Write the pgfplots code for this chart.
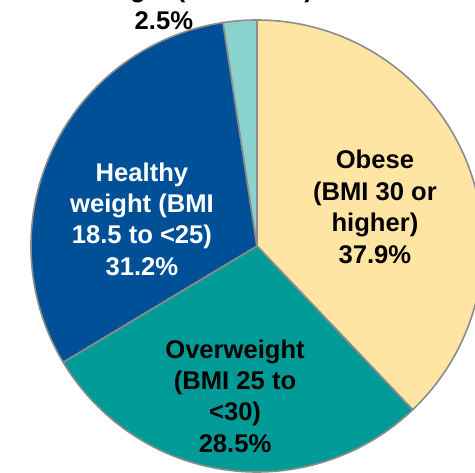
\documentclass[border=0pt]{standalone}
\usepackage{pgfplots}
\pgfplotsset{compat=1.18}
\usepackage{fontspec}
\setmainfont{Liberation Sans}
\definecolor{obese}{RGB}{255,229,163}
\definecolor{over}{RGB}{0,155,150}
\definecolor{healthy}{RGB}{0,80,152}
\definecolor{under}{RGB}{138,210,206}
\definecolor{edge}{RGB}{140,140,140}
\tikzset{lab/.style={font=\bfseries\fontsize{12.8}{15.7}\selectfont, align=center, inner sep=0pt}}
% slice from cumulative percent #1 to #2, clockwise from the top
\newcommand\slice[3]{%
  \fill[#3, draw=edge, line width=0.8pt] (axis cs:0,0) -- ++({90-3.6*#1}:113pt)
    arc[start angle={90-3.6*#1}, end angle={90-3.6*#2}, radius=113pt] -- cycle;}
\begin{document}
\begin{tikzpicture}
\begin{axis}[
  hide axis, scale only axis,
  x=113pt, y=113pt,
  xmin=-1.137, xmax=0.9646, ymin=-1.0, ymax=1.0885,
  clip=false,
]
% percentages: obese 37.9, overweight 28.5, healthy 31.2, underweight 2.5
\slice{0}{37.9}{obese}
\slice{37.9}{66.4}{over}
\slice{66.4}{97.6}{healthy}
\slice{97.6}{100}{under}
\node[lab] at (axis cs:0.522,0.173) {Obese\\(BMI 30 or\\higher)\\37.9\%};
\node[lab] at (axis cs:-0.097,-0.664) {Overweight\\(BMI 25 to\\<30)\\28.5\%};
\node[lab, text=white] at (axis cs:-0.509,0.119) {Healthy\\weight (BMI\\18.5 to <25)\\31.2\%};
\node[lab] at (axis cs:-0.412,1.069) {Underweight (BMI <18.5)\\2.5\%};
\end{axis}
\pgfresetboundingbox
\useasboundingbox (0,0) rectangle (237.50pt,236.00pt);
\end{tikzpicture}
\end{document}
